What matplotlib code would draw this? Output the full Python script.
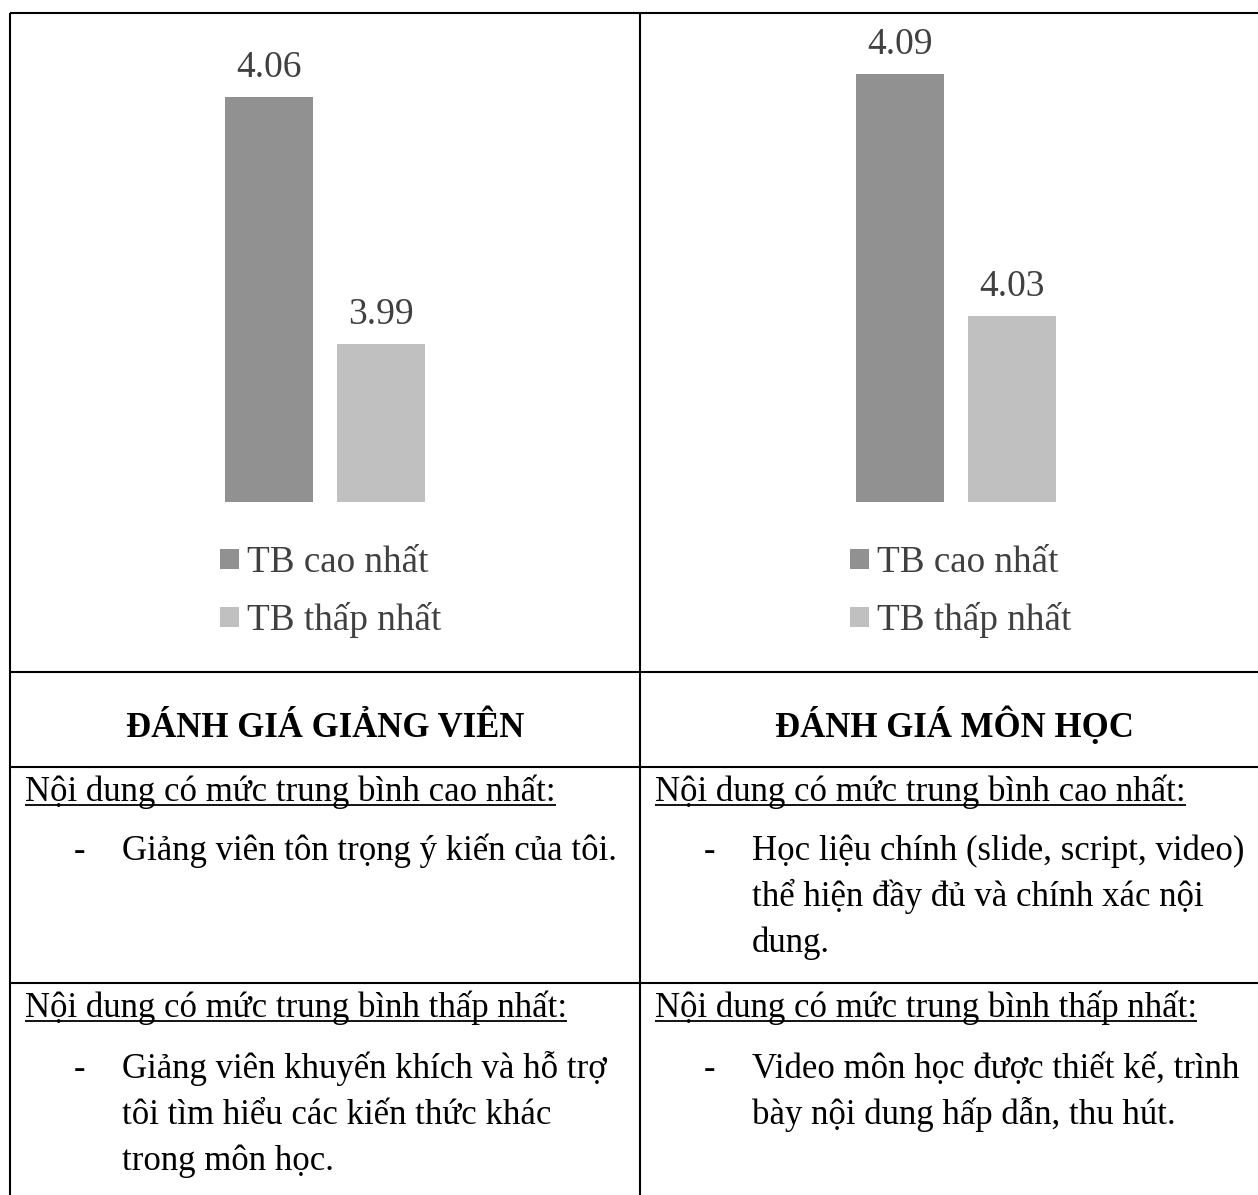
import matplotlib
matplotlib.use("Agg")
import matplotlib.pyplot as plt
from matplotlib.patches import Rectangle

# ---------------- data ----------------
categories = ["TB cao nhất", "TB thấp nhất"]
giang_vien = [4.06, 3.99]
mon_hoc = [4.09, 4.03]
bar_colors = ["#919191", "#c0c0c0"]

headers = ["ĐÁNH GIÁ GIẢNG VIÊN", "ĐÁNH GIÁ MÔN HỌC"]
row_titles = ["Nội dung có mức trung bình cao nhất:",
              "Nội dung có mức trung bình thấp nhất:"]
left_items = [["Giảng viên tôn trọng ý kiến của tôi."],
              ["Giảng viên khuyến khích và hỗ trợ",
               "tôi tìm hiểu các kiến thức khác",
               "trong môn học."]]
right_items = [["Học liệu chính (slide, script, video)",
                "thể hiện đầy đủ và chính xác nội",
                "dung."],
               ["Video môn học được thiết kế, trình",
                "bày nội dung hấp dẫn, thu hút."]]

# ---------------- layout ----------------
W, H, DPI = 1258, 1195, 100
FONT = "Liberation Serif"
plt.rcParams["font.family"] = [FONT, "DejaVu Serif"]

fig = plt.figure(figsize=(W / DPI, H / DPI), dpi=DPI)
fig.patch.set_facecolor("white")

bg = fig.add_axes([0, 0, 1, 1])
bg.set_xlim(0, W)
bg.set_ylim(H, 0)
bg.axis("off")


def pix_axes(x0, y0, x1, y1):
    return fig.add_axes([x0 / W, 1 - y1 / H, (x1 - x0) / W, (y1 - y0) / H])


def bar_chart(x0, x1, values, ylim):
    ax = pix_axes(x0, 20, x1, 502)
    ax.set_xlim(-0.5, 1.5)
    ax.set_ylim(*ylim)
    ax.axis("off")
    ax.patch.set_alpha(0)
    xs = list(range(len(values)))
    bars = ax.bar(xs, values, width=0.786, color=bar_colors, linewidth=0)
    for b, v in zip(bars, values):
        ax.annotate(f"{v:.2f}", xy=(b.get_x() + b.get_width() / 2, v),
                    xytext=(0, 14.5), textcoords="offset points",
                    ha="center", va="baseline", fontsize=27,
                    color="#404040", annotation_clip=False)
    return ax


bar_chart(213, 437, giang_vien, (3.945, 4.082))
bar_chart(843.75, 1067.75, mon_hoc, (3.984, 4.1035))

# legends (manual, to match layout)
for lx in (220, 850):
    for i, (lab, col) in enumerate(zip(categories, bar_colors)):
        base = 572 + 58 * i
        bg.add_patch(Rectangle((lx, base - 23), 18.5, 19.5, facecolor=col,
                               edgecolor="none"))
        bg.text(lx + 27, base, lab, fontsize=26.7, color="#404040",
                ha="left", va="baseline", family=FONT)

# ---------------- table lines ----------------
LW = 1.5
bg.plot([10, W], [13, 13], color="black", lw=LW, solid_capstyle="butt")
bg.plot([10, 10], [13, H], color="black", lw=LW, solid_capstyle="butt")
bg.plot([640, 640], [13, H], color="black", lw=LW, solid_capstyle="butt")
for yy in (672, 767, 983):
    bg.plot([10, W], [yy, yy], color="black", lw=LW, solid_capstyle="butt")

# headers
bg.text(325, 737, headers[0], fontsize=25, fontweight="bold", ha="center",
        va="baseline", family=FONT)
bg.text(954, 737, headers[1], fontsize=25, fontweight="bold", ha="center",
        va="baseline", family=FONT)

# text cells
FS = 25
title_texts = []
col_x = [25, 655]
title_base = [801, 1017]
item_base = [860, 1078]
PITCH = 46
for ci, items in enumerate([left_items, right_items]):
    x = col_x[ci]
    for ri in range(2):
        t = bg.text(x, title_base[ri], row_titles[ri], fontsize=FS,
                    ha="left", va="baseline", family=FONT)
        title_texts.append((t, title_base[ri]))
        for li, line in enumerate(items[ri]):
            y = item_base[ri] + PITCH * li
            if li == 0:
                bg.text(x + 48.5, y, "-", fontsize=FS, ha="left",
                        va="baseline", family=FONT)
            bg.text(x + 97, y, line, fontsize=FS, ha="left", va="baseline",
                    family=FONT)

# underlines for row titles
fig.canvas.draw()
r = fig.canvas.get_renderer()
for t, base in title_texts:
    bb = t.get_window_extent(renderer=r)
    bg.plot([bb.x0, bb.x1], [base + 4, base + 4], color="black", lw=1.3,
            solid_capstyle="butt")

fig.savefig("out.png", dpi=DPI)
